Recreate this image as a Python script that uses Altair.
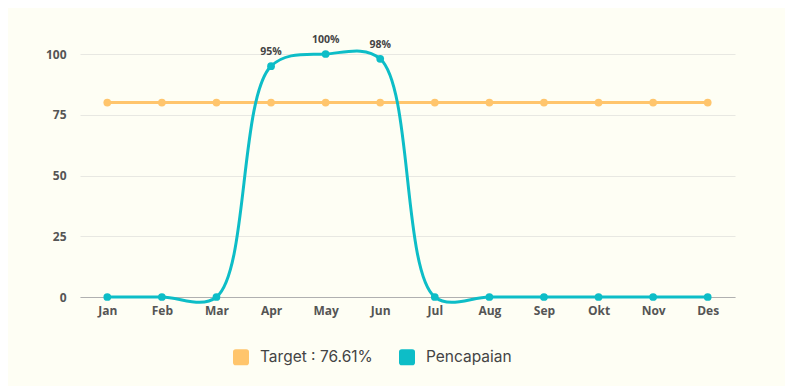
import altair as alt
import pandas as pd

months = ["Jan", "Feb", "Mar", "Apr", "May", "Jun", "Jul", "Aug", "Sep", "Okt", "Nov", "Des"]
target = [80] * 12
pencapaian = [0, 0, 0, 95, 100, 98, 0, 0, 0, 0, 0, 0]
series_names = ["Target : 76.61%", "Pencapaian"]
colors = ["#FFC56C", "#0DBDC7"]

rows = []
for m, t, p in zip(months, target, pencapaian):
    rows.append({"month": m, "value": t, "series": series_names[0], "label": ""})
    rows.append({"month": m, "value": p, "series": series_names[1], "label": f"{p}%" if p > 0 else ""})
df = pd.DataFrame(rows)

rounded = "M -0.65,-1 L 0.65,-1 Q 1,-1 1,-0.65 L 1,0.65 Q 1,1 0.65,1 L -0.65,1 Q -1,1 -1,0.65 L -1,-0.65 Q -1,-1 -0.65,-1 Z"

x = alt.X("month:N", sort=months, title=None,
          scale=alt.Scale(type="point", padding=0.5),
          axis=alt.Axis(labelAngle=0, ticks=False, grid=False, domainColor="#b0b0b0",
                        labelFont="Open Sans", labelFontWeight="bold", labelFontSize=12,
                        labelColor="#555555", labelPadding=8))
y = alt.Y("value:Q", title=None, scale=alt.Scale(domain=[0, 100], nice=False),
          axis=alt.Axis(values=[0, 25, 50, 75, 100], ticks=False, domain=False,
                        gridColor="#e8e8e2", labelFont="Open Sans", labelFontWeight="bold",
                        labelFontSize=12, labelColor="#555555", labelPadding=14))
color = alt.Color("series:N", sort=series_names,
                  scale=alt.Scale(domain=series_names, range=colors),
                  legend=alt.Legend(title=None, orient="none", direction="horizontal",
                                    legendX=153, legendY=295,
                                    symbolType=rounded, symbolSize=256, symbolStrokeWidth=0,
                                    symbolOpacity=1, labelFont="Inter", labelFontSize=15.5,
                                    labelColor="#444444", columnPadding=26, labelOffset=11))

base = alt.Chart(df).encode(x=x, y=y, color=color)

line = base.mark_line(interpolate="catmull-rom", strokeWidth=3, clip=False)
pts = base.mark_point(filled=True, size=60, opacity=1)
labels = alt.Chart(df).mark_text(dy=-14, font="Open Sans", fontWeight="bold", fontSize=10.5,
                                 color="#444444").encode(
    x=alt.X("month:N", sort=months), y="value:Q", text="label:N")

chart = alt.layer(line, pts, labels).properties(
    width=655, height=243, background="#FEFEF4",
    padding={"left": 37, "top": 27, "right": 50, "bottom": 20}
).configure_view(stroke=None)

chart.save("out.html", embed_options={"renderer": "svg", "actions": False})
